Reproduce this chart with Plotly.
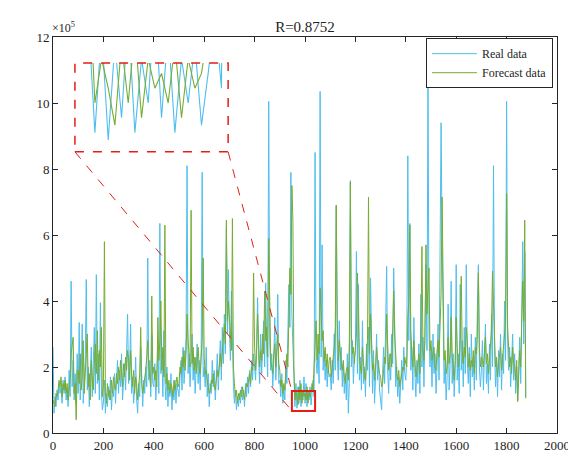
import numpy as np
import plotly.graph_objects as go

# ---------------- data (values in units of 1e5), sampled every 4 points ----------------
step = 4
real_data = [
    2.6, 0.6, 1.1, 0.8, 1.3,  1.0, 1.5, 1.2, 1.4, 0.9,  1.6, 1.2, 1.7, 1.0, 1.3,  0.8, 1.9, 1.1, 4.6, 1.4,  2.2, 1.0, 1.8, 0.9, 2.4,
    1.2, 3.35, 1.0, 1.8, 3.3,  0.9, 1.6, 2.2, 4.65, 1.3,  2.0, 0.8, 1.7, 2.6, 1.1,  1.9, 3.2, 1.2, 4.8, 1.5,  2.4, 1.0, 3.95, 1.3, 0.7,
    0.9, 1.6, 0.6, 1.2, 0.8,  1.4, 1.0, 1.7, 0.7, 1.3,  1.1, 1.8, 0.9, 1.5, 2.2,  1.2, 1.9, 1.4, 2.4, 1.0,  1.6, 2.1, 1.3, 2.8, 3.6,
    1.5, 2.0, 3.3, 1.2, 1.7,  0.9, 1.4, 2.3, 1.0, 0.6,  1.5, 1.1, 2.6, 1.3, 0.8,  1.6, 1.2, 2.0, 1.4, 5.3,  1.6, 2.2, 1.1, 3.0, 1.5,
    1.4, 2.1, 1.0, 1.7, 2.6,  1.2, 6.35, 1.8, 2.4, 1.1,  3.1, 1.6, 1.0, 2.0, 0.8,  1.4, 1.1, 1.8, 0.7, 1.3,  1.0, 1.6, 0.9, 1.5, 1.2,
    1.1, 1.7, 2.2, 1.3, 2.6,  1.5, 2.0, 2.9, 8.1, 1.8,  2.4, 1.4, 2.1, 3.0, 1.6,  2.3, 1.2, 1.9, 2.7, 1.5,  2.2, 1.3, 2.5, 7.9, 1.7,
    2.0, 1.4, 2.6, 1.1, 1.8,  0.8, 1.5, 1.2, 2.2, 1.4,  1.9, 1.0, 1.7, 2.4, 1.3,  2.0, 2.8, 1.6, 3.2, 2.1,  3.6, 2.4, 6.2, 3.0, 4.95,
    3.1, 2.2, 4.3, 2.6, 1.4,  0.9, 1.3, 0.7, 1.1, 0.8,  1.2, 0.9, 1.4, 1.0, 1.3,  0.8, 1.5, 1.1, 1.7, 1.2,  1.9, 1.4, 2.2, 1.6, 2.4,
    2.0, 1.6, 2.8, 4.1, 2.2,  1.5, 3.0, 1.8, 2.6, 3.4,  2.0, 4.55, 2.5, 1.7, 10.05,  2.8, 1.9, 2.4, 1.4, 2.1,  3.5, 1.6, 2.3, 4.2, 1.5,
    1.6, 1.1, 1.8, 0.9, 1.4,  1.0, 2.2, 1.5, 2.8, 4.5,  3.2, 7.9, 3.6, 2.4, 1.6,  0.8, 1.5, 0.75, 1.4, 0.9,  1.6, 0.8, 1.3, 1.0, 1.7,
    0.9, 1.5, 0.8, 1.3, 1.0,  1.4, 0.85, 1.2, 1.6, 1.1,  8.5, 2.2, 1.8, 2.6, 1.5,  10.35, 2.3, 5.7, 1.9, 2.5,  1.6, 2.2, 1.4, 2.0, 1.7,
    1.8, 1.3, 2.2, 1.5, 3.0,  1.9, 6.9, 2.4, 1.6, 3.4,  1.9, 2.6, 1.4, 2.1, 1.2,  1.8, 1.0, 2.4, 0.6, 1.5,  7.65, 2.0, 2.8, 1.5, 2.3,
    2.5, 5.5, 1.8, 4.5, 1.6,  2.3, 1.3, 3.4, 1.5, 2.0,  1.1, 2.7, 1.9, 3.2, 1.4,  4.7, 2.0, 1.2, 2.5, 0.9,  1.7, 3.0, 1.6, 2.2, 1.3,
    1.0, 0.7, 1.8, 2.6, 1.5,  2.9, 5.05, 1.9, 1.2, 2.4,  1.6, 3.0, 2.1, 5.0, 2.3,  1.4, 2.0, 1.1, 1.7, 0.9,  1.5, 2.2, 1.3, 2.6, 1.8,
    1.6, 2.4, 8.4, 2.8, 6.35,  1.9, 2.6, 1.3, 3.5, 1.8,  1.1, 2.2, 1.5, 2.7, 1.2,  4.2, 2.0, 2.9, 1.4, 3.2,  5.1, 2.5, 11.1, 3.0, 2.0,
    2.6, 1.4, 3.0, 1.8, 2.4,  1.2, 2.0, 3.3, 1.6, 4.5,  9.4, 5.8, 2.6, 1.5, 2.2,  1.0, 1.7, 3.9, 1.3, 2.1,  4.6, 1.5, 2.4, 1.1, 1.9,
    5.1, 1.6, 2.4, 1.2, 4.5,  1.9, 2.8, 1.4, 3.2, 1.8,  5.1, 2.2, 1.5, 2.6, 1.1,  3.0, 1.7, 2.3, 1.3, 2.9,  1.6, 3.8, 5.1, 2.0, 1.4,
    1.9, 2.8, 1.3, 2.4, 3.3,  1.5, 2.1, 1.2, 2.7, 1.6,  3.6, 2.0, 8.1, 2.6, 1.4,  2.2, 1.1, 2.5, 1.7, 3.0,  1.3, 2.4, 1.8, 4.0, 2.2,
    10.05, 2.8, 1.9, 2.6, 1.4,  2.2, 3.0, 1.6, 2.4, 1.2,  2.0, 1.0, 1.8, 2.9, 1.5,  3.6, 5.8, 2.7, 5.5, 1.1,
]
forecast_data = [
    1.0, 0.9, 0.8, 1.2, 1.1,  1.3, 1.6, 1.4, 1.7, 1.1,  1.5, 1.3, 1.6, 1.2, 1.5,  1.0, 1.4, 1.6, 2.4, 2.6,  2.9, 1.2, 1.5, 0.4, 1.9,
    1.9, 1.5, 2.4, 1.3, 1.7,  2.8, 1.2, 1.9, 2.3, 3.0,  1.4, 1.8, 1.0, 2.2, 1.6,  1.3, 2.1, 2.7, 1.8, 3.1,  1.6, 2.5, 2.0, 3.2, 1.1,
    1.4, 5.8, 1.2, 0.9, 1.5,  1.1, 1.3, 1.0, 1.6, 1.2,  1.7, 1.4, 1.3, 1.8, 1.5,  2.0, 1.6, 2.2, 1.8, 1.4,  2.1, 1.7, 2.3, 1.9, 2.5,
    2.2, 1.6, 2.5, 1.8, 1.4,  1.9, 1.2, 1.7, 1.5, 1.0,  1.3, 1.8, 3.2, 1.5, 1.2,  1.4, 1.6, 1.9, 2.3, 2.8,  2.0, 1.7, 1.4, 4.15, 1.8,
    2.0, 1.6, 1.9, 1.4, 3.5,  2.2, 2.8, 4.0, 1.9, 2.6,  1.7, 6.3, 1.5, 1.8, 1.3,  1.6, 1.2, 1.5, 1.4, 1.1,  1.6, 1.3, 1.5, 1.7, 1.4,
    1.5, 2.0, 1.8, 2.3, 2.0,  2.5, 1.9, 2.4, 3.6, 2.8,  2.2, 2.0, 6.75, 2.1, 2.6,  1.9, 2.3, 1.8, 2.2, 2.6,  2.0, 1.8, 2.3, 2.9, 5.3,
    2.3, 1.8, 1.9, 1.6, 1.4,  1.2, 1.3, 1.6, 1.5, 1.8,  1.4, 1.3, 1.6, 1.9, 1.7,  2.2, 2.4, 2.0, 2.6, 2.9,  3.3, 2.7, 6.45, 3.4, 4.0,
    3.5, 2.8, 2.5, 6.5, 2.0,  1.5, 1.1, 1.3, 0.9, 1.2,  1.0, 1.3, 1.1, 1.4, 1.2,  1.0, 1.3, 1.5, 1.4, 1.6,  1.8, 1.5, 2.0, 1.9, 4.85,
    2.6, 1.9, 2.4, 3.6, 2.7,  2.0, 2.5, 2.2, 3.0, 2.4,  4.3, 2.8, 3.2, 2.3, 5.9,  3.1, 2.2, 2.0, 1.8, 2.4,  2.7, 2.0, 2.6, 3.0, 2.1,
    1.9, 1.4, 1.6, 1.2, 1.5,  1.3, 1.8, 2.4, 2.0, 3.4,  5.0, 4.2, 7.5, 6.45, 2.0,  1.0, 1.3, 1.1, 0.85, 1.4,  1.0, 1.5, 0.9, 1.3, 1.1,
    1.2, 1.0, 1.4, 0.9, 1.3,  1.1, 1.2, 1.5, 1.3, 1.9,  2.6, 3.4, 2.2, 3.0, 2.4,  4.4, 3.6, 2.8, 3.1, 2.2,  2.6, 2.0, 2.4, 1.8, 2.2,
    2.3, 1.7, 2.0, 2.4, 2.6,  3.2, 6.9, 3.5, 2.2, 2.8,  2.4, 2.1, 1.9, 2.2, 1.7,  1.5, 1.9, 2.0, 1.6, 2.8,  7.6, 3.0, 2.4, 2.6, 2.1,
    2.7, 3.0, 4.85, 2.8, 2.2,  2.0, 1.8, 2.6, 2.0, 1.7,  1.6, 2.2, 2.8, 7.15, 2.4,  3.6, 2.3, 1.9, 2.1, 1.6,  2.0, 2.6, 2.2, 1.9, 1.8,
    1.7, 1.4, 1.5, 2.0, 2.3,  2.1, 3.6, 2.7, 1.9, 2.2,  2.4, 2.0, 2.9, 4.3, 3.0,  2.1, 1.8, 1.6, 1.9, 1.4,  1.6, 1.8, 2.0, 1.9, 2.3,
    2.1, 2.0, 3.5, 4.0, 6.3,  3.1, 2.4, 2.0, 2.8, 2.3,  1.7, 1.9, 2.1, 2.4, 1.8,  3.0, 5.65, 2.6, 2.2, 2.8,  5.7, 3.6, 4.4, 5.0, 2.5,
    2.8, 2.2, 2.4, 2.6, 2.0,  1.9, 2.5, 2.8, 2.3, 3.6,  4.2, 7.15, 3.4, 2.2, 2.5,  1.8, 2.0, 2.9, 2.1, 2.4,  3.5, 2.3, 2.0, 1.6, 2.2,
    3.5, 2.6, 2.0, 2.2, 2.8,  4.75, 2.5, 2.1, 2.6, 2.3,  3.2, 2.8, 2.0, 2.4, 1.9,  2.2, 2.0, 2.5, 1.8, 2.6,  2.4, 3.0, 4.85, 2.6, 2.0,
    2.3, 2.2, 2.0, 2.6, 2.9,  2.1, 2.4, 1.8, 2.2, 2.5,  3.1, 4.9, 3.8, 2.7, 2.0,  2.3, 1.7, 2.1, 2.4, 2.6,  1.9, 2.2, 2.5, 3.0, 3.4,
    7.25, 3.2, 2.4, 2.0, 2.3,  1.8, 2.6, 2.1, 2.0, 1.6,  2.2, 0.95, 1.7, 2.5, 2.0,  3.0, 4.6, 3.4, 6.45, 1.05,
]
x_real = np.arange(len(real_data)) * step
x_fc = np.arange(len(forecast_data)) * step

title_text = "R=0.8752"
series_names = ["Real data", "Forecast data"]
x_ticks = [0, 200, 400, 600, 800, 1000, 1200, 1400, 1600, 1800, 2000]
y_ticks = [0, 2, 4, 6, 8, 10, 12]

# axis ranges / zoom window / inset placement (data units)
x_range = [0, 2000]
y_range = [0, 12]
zoom_x = [948, 1040]
zoom_y = [0.67, 1.27]
inset_x = [87, 695]
inset_y = [8.52, 11.21]

blue = "rgb(77,190,238)"
green = "rgb(119,172,48)"
red = "rgb(228,30,20)"
axis_col = "rgb(38,38,38)"
font_fam = "Liberation Serif, Times New Roman, serif"

# page body has an 8px margin, so the figure is sized/offset accordingly
W, H = 568, 451

fig = go.Figure()
fig.add_trace(go.Scatter(x=x_real, y=real_data, mode="lines", name=series_names[0],
                         line=dict(color=blue, width=1)))
fig.add_trace(go.Scatter(x=x_fc, y=forecast_data, mode="lines", name=series_names[1],
                         line=dict(color=green, width=1)))
# inset copies
fig.add_trace(go.Scatter(x=x_real, y=real_data, mode="lines", showlegend=False,
                         line=dict(color=blue, width=1.1), xaxis="x2", yaxis="y2"))
fig.add_trace(go.Scatter(x=x_fc, y=forecast_data, mode="lines", showlegend=False,
                         line=dict(color=green, width=1.1), xaxis="x2", yaxis="y2"))

def frac(v, r):
    return (v - r[0]) / (r[1] - r[0])

axis_common = dict(showgrid=False, zeroline=False, showline=True, linecolor=axis_col,
                   linewidth=1, mirror="allticks", ticks="inside", ticklen=5,
                   tickcolor=axis_col, automargin=False,
                   tickfont=dict(family=font_fam, size=13, color="rgb(30,30,30)"))

fig.update_layout(
    width=W, height=H,
    margin=dict(l=45, r=19, t=29, b=26),
    paper_bgcolor="white", plot_bgcolor="white",
    font=dict(family=font_fam, color="rgb(30,30,30)"),
    title=dict(text=title_text, x=0.5, xref="paper", xanchor="center",
               y=1 - 19 / H, yanchor="middle", font=dict(family=font_fam, size=15)),
    xaxis=dict(range=x_range, tickvals=x_ticks, **axis_common),
    yaxis=dict(range=y_range, tickvals=y_ticks, **axis_common),
    xaxis2=dict(domain=[frac(inset_x[0], x_range), frac(inset_x[1], x_range)], range=zoom_x,
                anchor="y2", visible=False, automargin=False),
    yaxis2=dict(domain=[frac(inset_y[0], y_range), frac(inset_y[1], y_range)], range=zoom_y,
                anchor="x2", visible=False, automargin=False),
    legend=dict(x=0.992, y=0.997, xanchor="right", yanchor="top", bgcolor="white",
                bordercolor=axis_col, borderwidth=1, font=dict(family=font_fam, size=12),
                tracegroupgap=0, itemwidth=45),
    showlegend=True,
)

# x10^5 multiplier label
fig.add_annotation(text="×10<sup>5</sup>", xref="paper", yref="paper", x=0, y=1,
                   xanchor="left", yanchor="bottom", showarrow=False,
                   font=dict(family=font_fam, size=12), xshift=-3)

# zoom window, inset border and connector lines
fig.add_shape(type="rect", xref="x", yref="y", x0=zoom_x[0], x1=zoom_x[1], y0=zoom_y[0], y1=zoom_y[1],
              line=dict(color=red, width=2), layer="above")
fig.add_shape(type="rect", xref="x", yref="y", x0=inset_x[0], x1=inset_x[1], y0=inset_y[0], y1=inset_y[1],
              line=dict(color=red, width=1.5, dash="dash"), layer="above")
fig.add_shape(type="line", xref="x", yref="y", x0=inset_x[0], y0=inset_y[0], x1=zoom_x[0], y1=zoom_y[0],
              line=dict(color=red, width=1, dash="dash"), layer="above")
fig.add_shape(type="line", xref="x", yref="y", x0=inset_x[1], y0=inset_y[0], x1=zoom_x[0], y1=zoom_y[1],
              line=dict(color=red, width=1, dash="dash"), layer="above")

fig.write_html("out.html")
